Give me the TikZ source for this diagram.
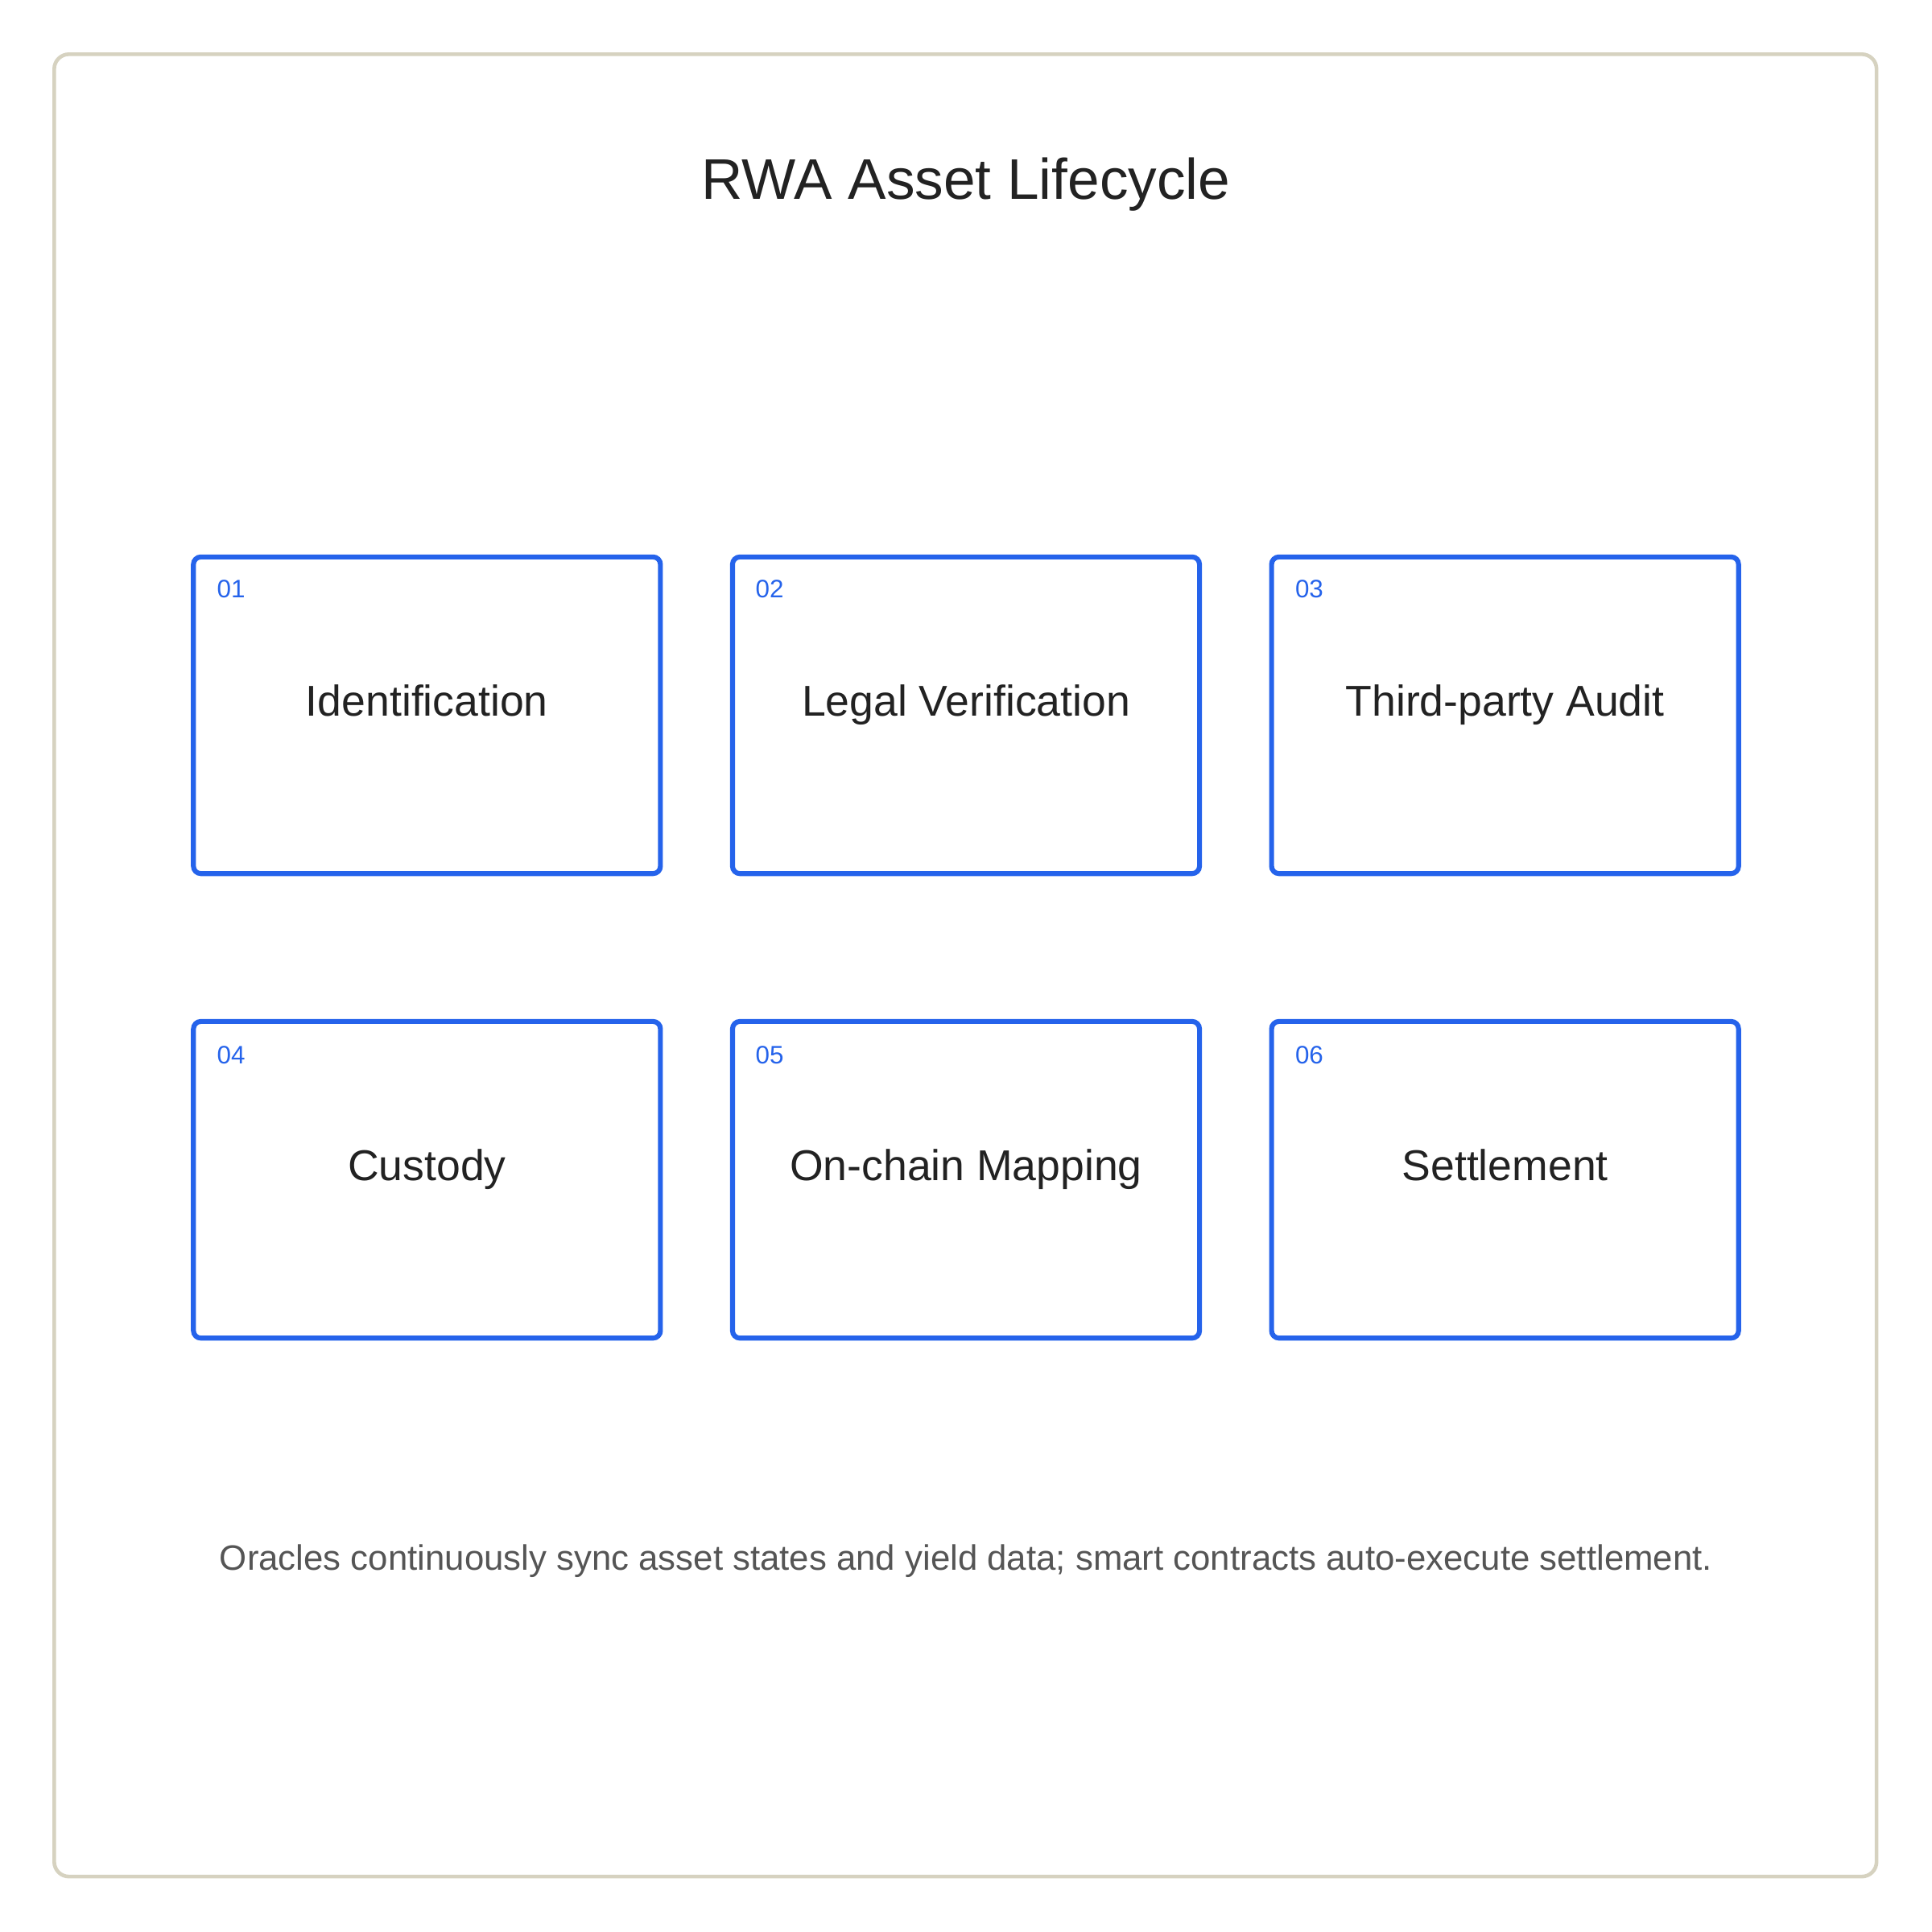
\documentclass[tikz,border=0pt]{standalone}
\usepackage{fontspec}
\setmainfont{Liberation Sans}
\begin{document}
\begin{tikzpicture}[x=1pt,y=-1pt,
  box/.style={draw=boxblue,line width=4pt,rounded corners=6pt,minimum width=379pt,minimum height=257pt,inner sep=0pt,font=\fontsize{35}{40}\selectfont,text=textdark,text height=0.72em,text depth=0.61em},
  num/.style={anchor=west,font=\fontsize{20.5}{24}\selectfont,text=boxblue,inner sep=0pt}]
\definecolor{boxblue}{HTML}{2563EB}
\definecolor{frame}{HTML}{D6D2C0}
\definecolor{textdark}{HTML}{222222}
\definecolor{foot}{HTML}{555555}
\useasboundingbox (0,0) rectangle (1568,1568);
\fill[white] (0,0) rectangle (1568,1568);
\draw[frame,line width=3pt,rounded corners=12pt] (44,44) rectangle (1523,1523);
\node[font=\fontsize{46.5}{52}\selectfont,text=textdark] (title) at (784,150) {RWA Asset Lifecycle};
\node[box] (b1) at (346.5,580.5) {Identification};
\node[box] (b2) at (784,580.5) {Legal Verification};
\node[box] (b3) at (1221.5,580.5) {Third-party Audit};
\node[box] (b4) at (346.5,957.5) {Custody};
\node[box] (b5) at (784,957.5) {On-chain Mapping};
\node[box] (b6) at (1221.5,957.5) {Settlement};
\node[num] (n1) at (176,478) {01};
\node[num] (n2) at (613,478) {02};
\node[num] (n3) at (1051,478) {03};
\node[num] (n4) at (176,856) {04};
\node[num] (n5) at (613,856) {05};
\node[num] (n6) at (1051,856) {06};
\node[font=\fontsize{28.6}{34}\selectfont,text=foot] (footer) at (784,1267) {Oracles continuously sync asset states and yield data; smart contracts auto-execute settlement.};
\end{tikzpicture}
\end{document}
